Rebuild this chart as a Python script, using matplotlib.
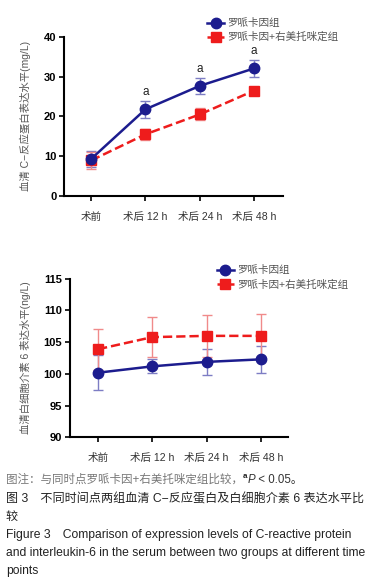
import matplotlib
matplotlib.use('Agg')
import matplotlib.pyplot as plt
import numpy as np

plt.rcParams['font.family'] = ['Liberation Sans', 'Noto Sans CJK SC', 'DejaVu Sans']

# data
time_labels = ['术前', '术后 12 h', '术后 24 h', '术后 48 h']
groups = ['罗哌卡因组', '罗哌卡因+右美托咪定组']

crp_ropi = [9.3, 21.8, 27.7, 32.1]
crp_ropi_err = [2.0, 2.1, 2.1, 2.2]
crp_combo = [8.9, 15.5, 20.5, 26.5]
crp_combo_err = [2.1, 1.4, 1.5, 0.9]
crp_sig = [False, True, True, True]

il6_ropi = [100.2, 101.2, 101.9, 102.3]
il6_ropi_err = [2.8, 1.1, 2.0, 2.1]
il6_combo = [103.9, 105.8, 106.0, 106.0]
il6_combo_err = [3.2, 3.2, 3.3, 3.4]

blue = '#1c1c8e'
red = '#ee1c1c'
grey = '#555555'

fig = plt.figure(figsize=(3.88, 5.88), dpi=100)


def draw_panel(ax, y1, e1, y2, e2, ylim, yticks, ylabel, xlim):
    x = np.arange(len(time_labels))
    ax.errorbar(x, y1, yerr=e1, fmt='none', ecolor='#7d7dc4', elinewidth=1, capsize=3.5, zorder=2)
    ax.errorbar(x, y2, yerr=e2, fmt='none', ecolor='#f08a8a', elinewidth=1, capsize=3.5, zorder=2)
    ax.plot(x, y1, '-o', color=blue, lw=1.8, ms=7.5, label=groups[0], zorder=4)
    ax.plot(x, y2, '--s', color=red, lw=1.8, ms=6.5, label=groups[1], zorder=3)
    ax.set_xlim(*xlim)
    ax.set_ylim(*ylim)
    ax.set_yticks(yticks)
    ax.set_yticklabels([str(t) for t in yticks], fontsize=8, fontweight='bold')
    ax.set_xticks(x)
    ax.set_xticklabels(time_labels, fontsize=7.6, color='#333333')
    ax.set_ylabel(ylabel, fontsize=7.5, color=grey, labelpad=9)
    for side in ['top', 'right']:
        ax.spines[side].set_visible(False)
    for side in ['left', 'bottom']:
        ax.spines[side].set_linewidth(1.5)
    ax.tick_params(width=1.2, length=3.5, pad=2)
    ax.tick_params(axis='x', pad=8)
    return x


leg_kw = dict(loc='upper left', fontsize=7.6, frameon=False, handlelength=1.6,
              labelspacing=0.35, borderaxespad=0, handletextpad=0.3, labelcolor=grey)

# Panel 1: CRP
ax1 = fig.add_axes([0.165, 0.667, 0.564, 0.27])
x = draw_panel(ax1, crp_ropi, crp_ropi_err, crp_combo, crp_combo_err,
               (0, 40), [0, 10, 20, 30, 40], '血清 C−反应蛋白表达水平(mg/L)', (-0.5, 3.53))
for xi, yi, ei, s in zip(x, crp_ropi, crp_ropi_err, crp_sig):
    if s:
        ax1.annotate('a', (xi, yi + ei), xytext=(0, 2), textcoords='offset points',
                     ha='center', va='bottom', fontsize=8.5, color='#222222')
ax1.legend(bbox_to_anchor=(0.635, 1.145), **leg_kw)

# Panel 2: IL-6
ax2 = fig.add_axes([0.18, 0.256, 0.562, 0.27])
draw_panel(ax2, il6_ropi, il6_ropi_err, il6_combo, il6_combo_err,
           (90, 115), [90, 95, 100, 105, 110, 115], '血清白细胞介素 6 表达水平(ng/L)', (-0.52, 3.5))
ax2.legend(bbox_to_anchor=(0.655, 1.11), **leg_kw)

# captions
y0 = 1 - 480 / 588
pieces = [('图注：与同时点罗哌卡因+右美托咪定组比较，', {}),
          ('a', dict(fontsize=5.8, fontweight='bold')),
          ('P', dict(style='italic')),
          (' < 0.05。', {})]
fig.canvas.draw()
r = fig.canvas.get_renderer()
cx = 0.015
for s, kw in pieces:
    opts = dict(fontsize=8.3, color='#777777', va='center')
    opts.update(kw)
    yy = y0 + (0.006 if s == 'a' else 0)
    if s == 'a':
        opts['color'] = '#222222'
    if s in ('P', ' < 0.05。'):
        opts['color'] = '#333333'
    t = fig.text(cx, yy, s, **opts)
    bb = t.get_window_extent(renderer=r)
    cx += bb.width / fig.bbox.width

cap = dict(fontsize=8.7, color='#222222', va='center')
fig.text(0.015, 1 - 499 / 588, '图 3　不同时间点两组血清 C−反应蛋白及白细胞介素 6 表达水平比', **cap)
fig.text(0.015, 1 - 517 / 588, '较', **cap)
fig.text(0.015, 1 - 535 / 588, 'Figure 3　Comparison of expression levels of C-reactive protein', **cap)
fig.text(0.015, 1 - 553 / 588, 'and interleukin-6 in the serum between two groups at different time', **cap)
fig.text(0.015, 1 - 571 / 588, 'points', **cap)

fig.savefig('out.png', dpi=100)
